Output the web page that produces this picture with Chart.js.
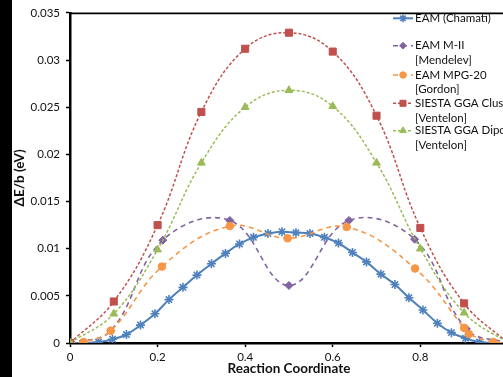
<!DOCTYPE html>
<html><head><meta charset="utf-8">
<script src="https://cdn.jsdelivr.net/npm/chart.js@4.4.0/dist/chart.umd.min.js"></script>
<style>
html,body{margin:0;padding:0;overflow:hidden;background:#fff;width:503px;height:377px}
#wrap{position:absolute;left:0;top:0;width:514px;height:377px}
</style></head><body><div id="wrap"><canvas id="c" width="514" height="377"></canvas></div>
<script>
// ---- data ----
const seriesNames = [
  ["EAM (Chamati)"],
  ["EAM M-II", "[Mendelev]"],
  ["EAM MPG-20", "[Gordon]"],
  ["SIESTA GGA Cluster", "[Ventelon]"],
  ["SIESTA GGA Dipole", "[Ventelon]"]
];
const chamatiX = [0, 0.032, 0.065, 0.097, 0.129, 0.161, 0.194, 0.226, 0.258, 0.290, 0.323, 0.355, 0.387, 0.419, 0.452, 0.484,
                  0.516, 0.548, 0.581, 0.613, 0.645, 0.677, 0.710, 0.742, 0.774, 0.806, 0.839, 0.871, 0.903, 0.935, 0.968, 1.0];
const chamatiY = [0, 0, 0.0001, 0.0004, 0.0009, 0.0019, 0.0031, 0.0046, 0.0059, 0.0072, 0.0084, 0.0095, 0.0105, 0.0112, 0.0116, 0.0118,
                  0.0117, 0.0116, 0.0112, 0.0106, 0.0096, 0.0086, 0.0073, 0.0062, 0.0048, 0.0035, 0.0021, 0.0011, 0.0005, 0.0001, 0, 0];
const m2X = [0, 0.093, 0.212, 0.365, 0.5, 0.637, 0.787, 0.905, 1.0];
const m2Y = [0, 0.0013, 0.0109, 0.0130, 0.0061, 0.0130, 0.0110, 0.0015, 0];
const mpgX = [0, 0.031, 0.093, 0.21, 0.365, 0.497, 0.632, 0.788, 0.9, 0.911, 0.967, 1.0];
const mpgY = [0, 0.0001, 0.0013, 0.0081, 0.0124, 0.0111, 0.0123, 0.0079, 0.0016, 0.00095, 0.0001, 0];
const clusterX = [0, 0.1, 0.2, 0.3, 0.4, 0.5, 0.6, 0.7, 0.8, 0.9, 1.0];
const clusterY = [0, 0.0044, 0.0125, 0.0245, 0.0312, 0.0329, 0.0309, 0.0241, 0.0122, 0.0042, 0];
const dipoleX = [0, 0.1, 0.2, 0.3, 0.4, 0.5, 0.6, 0.7, 0.8, 0.9, 1.0];
const dipoleY = [0, 0.0031, 0.0099, 0.0191, 0.0250, 0.0268, 0.0251, 0.0191, 0.0100, 0.0032, 0];
const xTicks = [0, 0.2, 0.4, 0.6, 0.8, 1];
const yTicks = [0, 0.005, 0.01, 0.015, 0.02, 0.025, 0.03, 0.035];
const xTitle = "Reaction Coordinate";
const yTitle = "\u0394E/b (eV)";

const pts = (xs, ys) => xs.map((x, i) => ({x: x, y: ys[i]}));
const FONT = "Lato, 'Open Sans', sans-serif";

const styles = [
  {color: '#4F81BD', dash: [], width: 2, pointStyle: 'star', radius: 4.5, order: 5},
  {color: '#8064A2', dash: [5, 4], width: 1.6, pointStyle: 'rectRot', radius: 4, order: 4},
  {color: '#F79646', dash: [5, 4], width: 1.6, pointStyle: 'circle', radius: 3.8, order: 3},
  {color: '#C0504D', dash: [3, 2], width: 1.5, pointStyle: 'rect', radius: 5, order: 2},
  {color: '#9BBB59', dash: [3, 2], width: 1.5, pointStyle: 'triangle', radius: 4.5, order: 1}
];
const seriesData = [pts(chamatiX, chamatiY), pts(m2X, m2Y), pts(mpgX, mpgY), pts(clusterX, clusterY), pts(dipoleX, dipoleY)];

const datasets = seriesData.map((d, i) => {
  const s = styles[i];
  return {
    label: seriesNames[i].join(' '),
    data: d,
    borderColor: s.color,
    backgroundColor: s.color,
    borderWidth: s.width,
    borderDash: s.dash,
    pointStyle: s.pointStyle,
    pointRadius: s.radius,
    pointBackgroundColor: s.color,
    pointBorderColor: s.color,
    pointBorderWidth: s.pointStyle === 'star' ? 1.6 : 1,
    tension: 0.4,
    fill: false,
    order: s.order
  };
});

const framePlugin = {
  id: 'frame',
  beforeDraw(chart) {
    const ctx = chart.ctx;
    ctx.save();
    ctx.fillStyle = '#fff';
    ctx.fillRect(0, 0, chart.width, chart.height);
    ctx.fillStyle = '#000';
    ctx.fillRect(0, 0, 12, chart.height);
    ctx.restore();
  },
  afterDraw(chart) {
    const ctx = chart.ctx;
    const a = chart.chartArea;
    ctx.save();
    ctx.strokeStyle = '#000';
    ctx.lineWidth = 1.6;
    ctx.beginPath();
    ctx.moveTo(a.left, a.top + 0.5);
    ctx.lineTo(a.right, a.top + 0.5);
    ctx.stroke();
    // legend
    const rows = [18.3, 45.7, 75, 103.3, 130.7];
    const x0 = 393, x1 = 413, tx = 415;
    ctx.font = "11.5px " + FONT;
    ctx.textBaseline = 'middle';
    ctx.textAlign = 'left';
    seriesNames.forEach((lines, i) => {
      const s = styles[i];
      const y = rows[i];
      ctx.strokeStyle = s.color;
      ctx.lineWidth = s.width;
      ctx.setLineDash(s.dash);
      ctx.beginPath();
      ctx.moveTo(x0, y);
      ctx.lineTo(x1, y);
      ctx.stroke();
      ctx.setLineDash([]);
      ctx.fillStyle = s.color;
      ctx.strokeStyle = s.color;
      ctx.lineWidth = s.pointStyle === 'star' ? 1.6 : 1;
      Chart.helpers.drawPoint(ctx, {pointStyle: s.pointStyle, radius: s.radius * 0.85, rotation: 0, borderWidth: ctx.lineWidth}, (x0 + x1) / 2, y);
      ctx.fillStyle = '#111';
      lines.forEach((t, j) => ctx.fillText(t, tx, y + j * 14.6));
    });
    ctx.restore();
  }
};

new Chart(document.getElementById('c'), {
  type: 'line',
  data: {datasets: datasets},
  plugins: [framePlugin],
  options: {
    responsive: false,
    animation: false,
    devicePixelRatio: 1,
    layout: {padding: {left: 0, right: 0, top: 11, bottom: 0}},
    plugins: {legend: {display: false}, tooltip: {enabled: false}},
    scales: {
      x: {
        type: 'linear', min: 0, max: 1,
        afterBuildTicks: (s) => { s.ticks = xTicks.map(v => ({value: v})); },
        afterFit: (s) => { s.height = 34; s.paddingLeft = 0; s.paddingRight = 0; },
        ticks: {color: '#111', font: {family: FONT, size: 11.5}, padding: 3, maxRotation: 0, autoSkip: false,
                callback: (v) => String(v)},
        grid: {display: true, drawOnChartArea: false, drawTicks: true, tickLength: 4, color: '#000', tickWidth: 1.5},
        border: {display: true, color: '#000', width: 2.5},
        title: {display: true, text: xTitle, color: '#111', font: {family: FONT, size: 13.5, weight: 'bold'}, padding: {top: 0, bottom: 0}}
      },
      y: {
        type: 'linear', min: 0, max: 0.035,
        afterBuildTicks: (s) => { s.ticks = yTicks.map(v => ({value: v})); },
        afterFit: (s) => { s.width = 70; },
        ticks: {color: '#111', font: {family: FONT, size: 11.5}, padding: 6, autoSkip: false,
                callback: (v) => String(v)},
        grid: {display: true, drawOnChartArea: false, drawTicks: true, tickLength: 4, color: '#000', tickWidth: 1.5},
        border: {display: true, color: '#000', width: 2.5},
        title: {display: true, text: yTitle, color: '#111', font: {family: FONT, size: 13.5, weight: 'bold'}, padding: {top: 12, bottom: 0}}
      }
    }
  }
});
</script>
</body></html>
